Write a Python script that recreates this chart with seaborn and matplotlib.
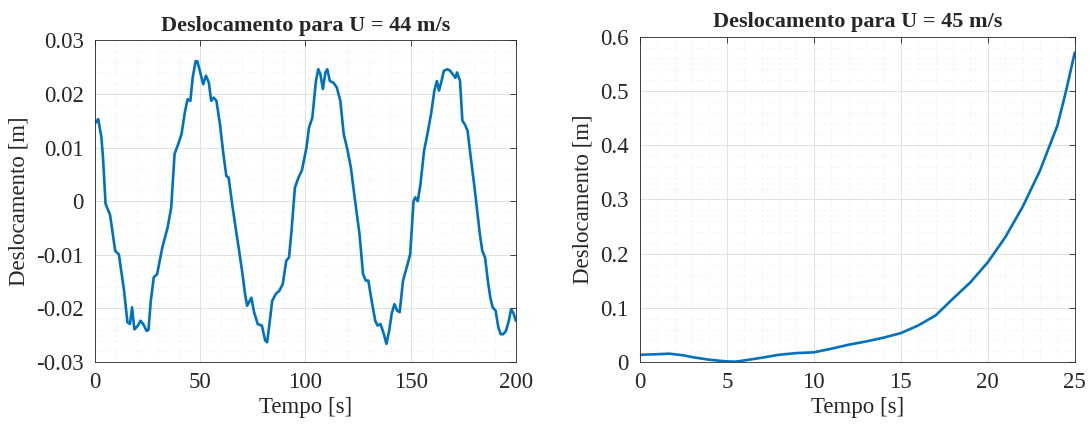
import matplotlib
matplotlib.use("Agg")
import matplotlib.pyplot as plt
import seaborn as sns
import pandas as pd
from matplotlib.ticker import MultipleLocator, AutoMinorLocator

# ---- data ----
t44 = [0, 1.5, 3, 3.8, 5, 7.1, 9.6, 11.3, 13.8, 15.4, 16.6, 17.6, 18.7, 20.4, 21.6, 22.9,
       24.5, 25.4, 26.5, 27.9, 29.5, 32, 34.5, 36.2, 37.8, 39.5, 41.1, 42.8, 44, 45.3,
       46.4, 47.8, 48.6, 50.2, 51.4, 52.7, 54.1, 55.2, 56.4, 57.7, 59.4, 61, 62.4, 63.5,
       65.2, 66.8, 68.5, 70.1, 71.3, 72.3, 73.5, 74.3, 75.6, 77.3, 79.3, 80.9, 81.8, 82.9,
       84.2, 85.9, 87.6, 89.2, 90.9, 92.2, 93.4, 95, 96.7, 98.3, 100.5, 101.7, 103.3, 105,
       106.1, 107.1, 108.3, 109.5, 110.4, 111.6, 113.3, 114.9, 116.6, 118.2, 119.9, 121.6,
       123.2, 125.7, 127.4, 128.7, 129.9, 131.5, 133.2, 134.3, 135.7, 137.3, 138.5, 139.8,
       141, 142.3, 143.6, 144.8, 146.4, 148.1, 149.8, 151.4, 152.2, 153.4, 154.7, 156.4,
       158, 159.7, 161.3, 162.5, 163.5, 164.7, 165.8, 167.5, 168.8, 170.5, 171.3, 172.1,
       173.5, 174.6, 175.8, 177.1, 178.8, 180.4, 181.8, 182.9, 184.1, 185.4, 186.7, 187.9,
       189, 190.4, 191.7, 192.8, 194, 195.3, 196.7, 197.8, 199, 200]
d44 = [0.0145, 0.0153, 0.012, 0.008, -0.0005, -0.0025, -0.0093, -0.0099, -0.0167, -0.0226,
       -0.0229, -0.0198, -0.0239, -0.0232, -0.0223, -0.0229, -0.0242, -0.024, -0.0186,
       -0.0142, -0.0136, -0.0086, -0.0049, -0.0012, 0.0088, 0.0106, 0.0125, 0.0168, 0.019,
       0.0187, 0.023, 0.0261, 0.0261, 0.0237, 0.0218, 0.0234, 0.0221, 0.0187, 0.0193,
       0.0187, 0.0143, 0.0088, 0.0047, 0.0044, -0.0006, -0.0049, -0.0093, -0.0136, -0.0173,
       -0.0195, -0.0186, -0.018, -0.0207, -0.0229, -0.0232, -0.026, -0.0263, -0.0229,
       -0.0186, -0.0173, -0.0167, -0.0155, -0.0111, -0.0105, -0.0055, 0.0025, 0.0044,
       0.0057, 0.01, 0.0137, 0.0156, 0.0224, 0.0246, 0.0237, 0.0209, 0.024, 0.0246, 0.0224,
       0.0221, 0.0212, 0.0187, 0.0125, 0.0097, 0.0063, 0.0013, -0.0061, -0.0136, -0.0148,
       -0.0148, -0.0186, -0.0223, -0.0232, -0.0229, -0.0248, -0.0266, -0.0242, -0.021,
       -0.0192, -0.0204, -0.0207, -0.0148, -0.0124, -0.0099, 0.0, 0.0007, 0.0, 0.0032,
       0.0094, 0.0125, 0.0162, 0.0206, 0.0224, 0.0206, 0.0224, 0.0243, 0.0246, 0.0243,
       0.0234, 0.023, 0.024, 0.0224, 0.015, 0.0143, 0.0131, 0.0075, 0.0025, -0.0024,
       -0.0061, -0.0093, -0.0105, -0.0148, -0.018, -0.0198, -0.0204, -0.0235, -0.0248,
       -0.0248, -0.0242, -0.0223, -0.0201, -0.021, -0.0223]

t45 = [0, 1, 1.7, 2.5, 3, 4, 5, 5.5, 6, 7, 8, 9, 10, 11, 12, 13, 14, 15, 16, 17, 18, 19,
       20, 21, 22, 23, 24, 24.5, 25]
d45 = [0.0135, 0.0145, 0.0155, 0.0125, 0.0092, 0.0043, 0.0012, 0.0008, 0.003, 0.008,
       0.0135, 0.0166, 0.018, 0.0246, 0.032, 0.038, 0.045, 0.0534, 0.0675, 0.086, 0.117,
       0.147, 0.184, 0.23, 0.286, 0.353, 0.436, 0.50, 0.571]

titles = ["Deslocamento para U = 44 m/s", "Deslocamento para U = 45 m/s"]
xlabel = "Tempo [s]"
ylabel = "Deslocamento [m]"
line_color = "#0072BD"

sns.set_theme(style="white")
plt.rcParams['font.family'] = ['Liberation Serif', 'DejaVu Serif']
plt.rcParams['mathtext.fontset'] = 'stix'

fig = plt.figure(figsize=(10.9, 4.28), dpi=100)
ax1 = fig.add_axes([0.0872, 0.154, 0.386, 0.752])
ax2 = fig.add_axes([0.587, 0.154, 0.399, 0.760])

df1 = pd.DataFrame({"t": t44, "d": d44})
df2 = pd.DataFrame({"t": t45, "d": d45})
sns.lineplot(data=df1, x="t", y="d", ax=ax1, color=line_color, linewidth=1.9)
sns.lineplot(data=df2, x="t", y="d", ax=ax2, color=line_color, linewidth=1.9)

def style(ax, xlim, ylim, xmaj, ymaj, title, yfmt):
    ax.set_xlim(*xlim)
    ax.set_ylim(*ylim)
    ax.xaxis.set_major_locator(MultipleLocator(xmaj))
    ax.yaxis.set_major_locator(MultipleLocator(ymaj))
    ax.xaxis.set_minor_locator(AutoMinorLocator(5))
    ax.yaxis.set_minor_locator(AutoMinorLocator(5))
    ax.yaxis.set_major_formatter(plt.FuncFormatter(yfmt))
    ax.grid(True, which="major", color="#dcdcdc", linewidth=0.6)
    ax.grid(True, which="minor", color="#ececec", linewidth=0.5, linestyle=":")
    ax.set_axisbelow(True)
    for s in ax.spines.values():
        s.set_visible(True)
        s.set_color("#262626")
        s.set_linewidth(0.6)
    ax.tick_params(which="major", direction="in", length=4, width=0.6, top=True, right=True,
                   labelsize=16.5, colors="#262626")
    ax.tick_params(axis="x", which="major", pad=7)
    ax.tick_params(axis="y", which="major", pad=8)
    ax.tick_params(which="minor", length=0)
    ax.set_title(title, fontsize=16, fontweight="bold", pad=7)
    ax.set_xlabel(xlabel, fontsize=16.5, labelpad=3, color="#262626")
    ax.set_ylabel(ylabel, fontsize=16.5, labelpad=5, color="#262626")
    for lab in ax.get_xticklabels() + ax.get_yticklabels():
        lab.set_color("#262626")

def fmt1(v, p):
    if abs(v) < 1e-9:
        return "0"
    return ("%.2f" % v)

def fmt2(v, p):
    if abs(v) < 1e-9:
        return "0"
    return ("%.1f" % v)

style(ax1, (0, 200), (-0.03, 0.03), 50, 0.01, titles[0], fmt1)
style(ax2, (0, 25), (0, 0.6), 5, 0.1, titles[1], fmt2)

fig.savefig("out.png", dpi=100)
